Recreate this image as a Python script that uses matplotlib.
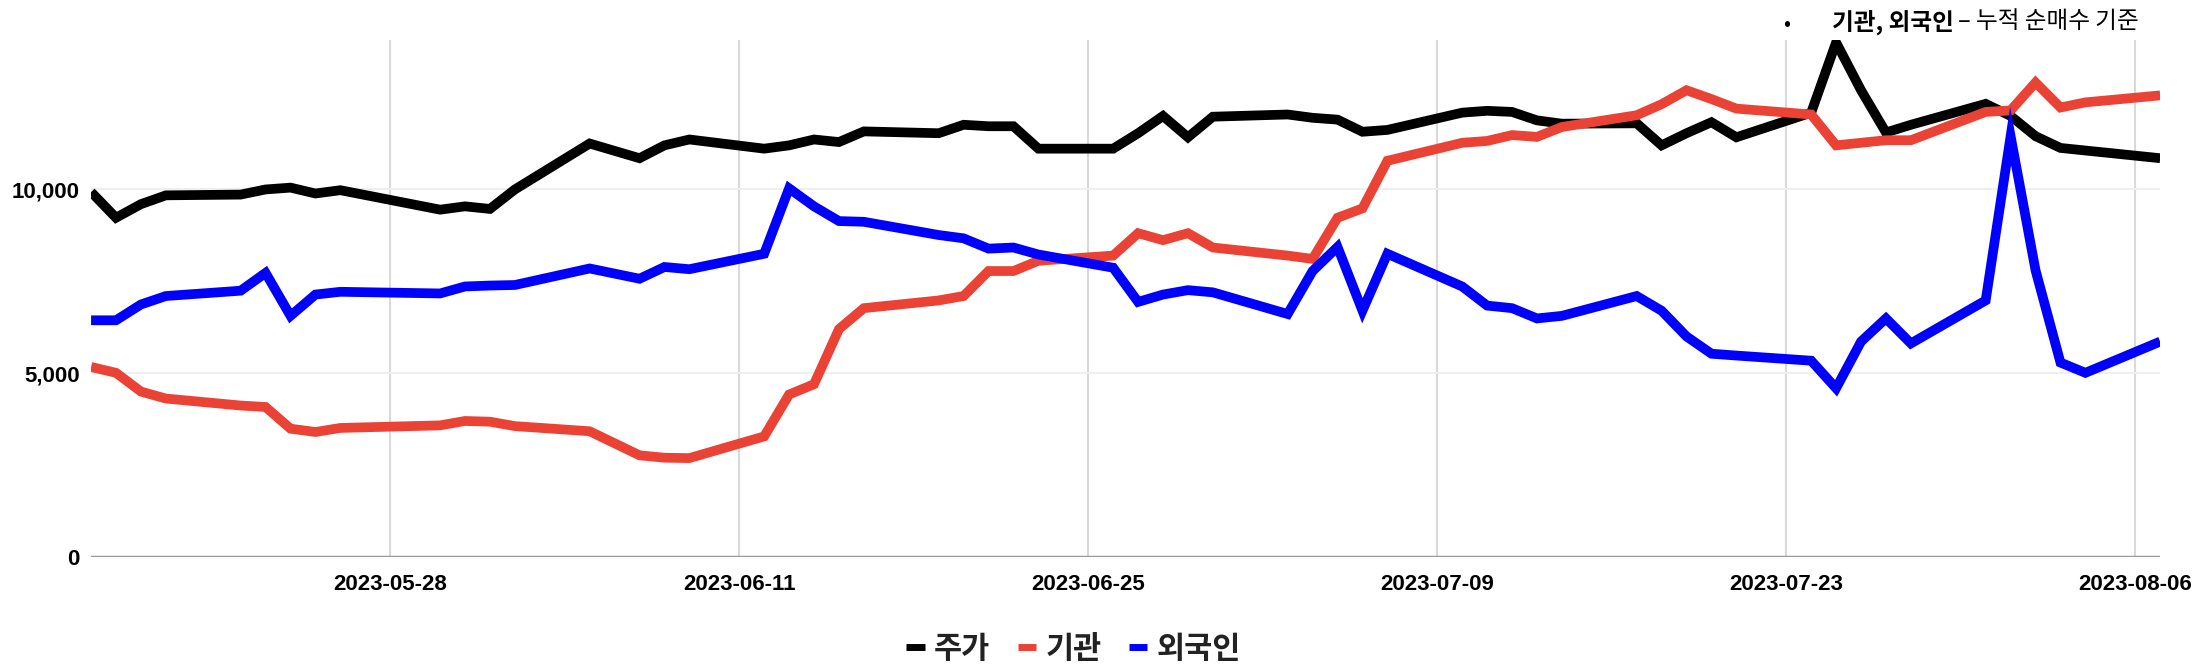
import pandas as pd
import matplotlib
matplotlib.use("Agg")
import matplotlib.pyplot as plt
import matplotlib.dates as mdates
from matplotlib.lines import Line2D
from matplotlib.ticker import FuncFormatter

# trading days, 2023-05-16 .. 2023-08-07
dates = [
    "2023-05-16", "2023-05-17", "2023-05-18", "2023-05-19",
    "2023-05-22", "2023-05-23", "2023-05-24", "2023-05-25", "2023-05-26",
    "2023-05-30", "2023-05-31", "2023-06-01", "2023-06-02",
    "2023-06-05", "2023-06-07", "2023-06-08", "2023-06-09",
    "2023-06-12", "2023-06-13", "2023-06-14", "2023-06-15", "2023-06-16",
    "2023-06-19", "2023-06-20", "2023-06-21", "2023-06-22", "2023-06-23",
    "2023-06-26", "2023-06-27", "2023-06-28", "2023-06-29", "2023-06-30",
    "2023-07-03", "2023-07-04", "2023-07-05", "2023-07-06", "2023-07-07",
    "2023-07-10", "2023-07-11", "2023-07-12", "2023-07-13", "2023-07-14",
    "2023-07-17", "2023-07-18", "2023-07-19", "2023-07-20", "2023-07-21",
    "2023-07-24", "2023-07-25", "2023-07-26", "2023-07-27", "2023-07-28",
    "2023-07-31", "2023-08-01", "2023-08-02", "2023-08-03", "2023-08-04",
    "2023-08-07",
]

price = [
    9930, 9230, 9600, 9840,
    9860, 10000, 10050, 9890, 9980,
    9450, 9540, 9470, 10000,
    11250, 10850, 11200, 11360,
    11110, 11200, 11360, 11290, 11580,
    11530, 11760, 11720, 11720, 11110,
    11110, 11530, 12000, 11420, 11980,
    12040, 11950, 11900, 11570, 11620,
    12090, 12140, 12110, 11880, 11790,
    11800, 11200, 11530, 11830, 11420,
    12090, 14000, 12700, 11550, 11760,
    12330, 12000, 11450, 11130, 11060,
    10850,
]

institution = [
    5170, 5010, 4500, 4310,
    4120, 4080, 3490, 3400, 3510,
    3580, 3700, 3680, 3560,
    3420, 2765, 2700, 2690,
    3280, 4420, 4700, 6200, 6770,
    6980, 7100, 7780, 7780, 8060,
    8200, 8810, 8620, 8810, 8420,
    8200, 8110, 9230, 9485, 10780,
    11270, 11320, 11480, 11430, 11700,
    12020, 12320, 12700, 12460, 12200,
    12040, 11200, 11270, 11340, 11340,
    12110, 12150, 12910, 12230, 12370,
    12560,
]

foreign = [
    6440, 6440, 6870, 7100,
    7245, 7730, 6560, 7140, 7215,
    7170, 7360, 7385, 7400,
    7850, 7570, 7890, 7830,
    8250, 10030, 9540, 9140, 9120,
    8760, 8670, 8390, 8420, 8230,
    7870, 6940, 7140, 7260, 7200,
    6610, 7780, 8435, 6700, 8250,
    7360, 6840, 6770, 6490, 6560,
    7100, 6700, 6000, 5530, 5480,
    5340, 4590, 5860, 6490, 5810,
    6980, 11450, 7800, 5290, 5010,
    5860,
]

tick_dates = ["2023-05-28", "2023-06-11", "2023-06-25", "2023-07-09", "2023-07-23", "2023-08-06"]
y_ticks = [0, 5000, 10000]

labels = ["주가", "기관", "외국인"]
colors = ["#000000", "#ea4335", "#0000ff"]

x = pd.to_datetime(dates)
xt = pd.to_datetime(tick_dates)

fig = plt.figure(figsize=(22, 6.71), dpi=100)
ax = fig.add_axes([0.0414, 0.170, 0.9405, 0.770])

for vals, c in zip([price, institution, foreign], colors):
    ax.plot(x, vals, color=c, lw=7, solid_joinstyle="miter", solid_capstyle="butt", zorder=3)

ax.set_xlim(x[0], x[-1])
ax.set_ylim(0, 14060)

ax.set_xticks(xt)
ax.xaxis.set_major_formatter(mdates.DateFormatter("%Y-%m-%d"))
ax.set_yticks(y_ticks)
ax.yaxis.set_major_formatter(FuncFormatter(lambda v, p: f"{int(v):,}"))

for lab in ax.get_xticklabels() + ax.get_yticklabels():
    lab.set_fontfamily("Liberation Sans")
    lab.set_fontweight("bold")
    lab.set_fontsize(16)
    lab.set_color("#000000")
ax.tick_params(axis="x", length=0, pad=12)
ax.tick_params(axis="y", length=0, pad=8)

for s in ax.spines.values():
    s.set_visible(False)

for t in xt:
    ax.axvline(t, color="#d9d9d9", lw=1.5, zorder=1)
for v in y_ticks[1:]:
    ax.axhline(v, color="#efefef", lw=1.5, zorder=1)
ax.axhline(0, color="#9a9a9a", lw=2.5, zorder=2)

handles = [Line2D([], [], color=c, lw=5, solid_capstyle="butt") for c in colors]
fig.legend(handles, labels, loc="center", bbox_to_anchor=(0.488, 0.033), ncol=3,
           frameon=False, handlelength=0.6, handletextpad=0.3, columnspacing=0.9,
           prop={"family": ["Noto Sans CJK KR", "DejaVu Sans"], "size": 22, "weight": "bold"},
           labelcolor="#222222")

fig.text(1787 / 2200, 1 - 24 / 671, "•", fontsize=15, ha="center", va="center",
         family=["Noto Sans CJK KR", "DejaVu Sans"])
t1 = fig.text(1832 / 2200, 1 - 22 / 671, "기관, 외국인", fontsize=17, fontweight="bold",
              ha="left", va="center", family=["Noto Sans CJK KR", "DejaVu Sans"])
fig.canvas.draw()
bb = t1.get_window_extent()
fig.text(bb.x1 / 2200 + 0.002, 1 - 22 / 671, "– 누적 순매수 기준", fontsize=17,
         ha="left", va="center", family=["Noto Sans CJK KR", "DejaVu Sans"])

fig.savefig("out.png", dpi=100)
